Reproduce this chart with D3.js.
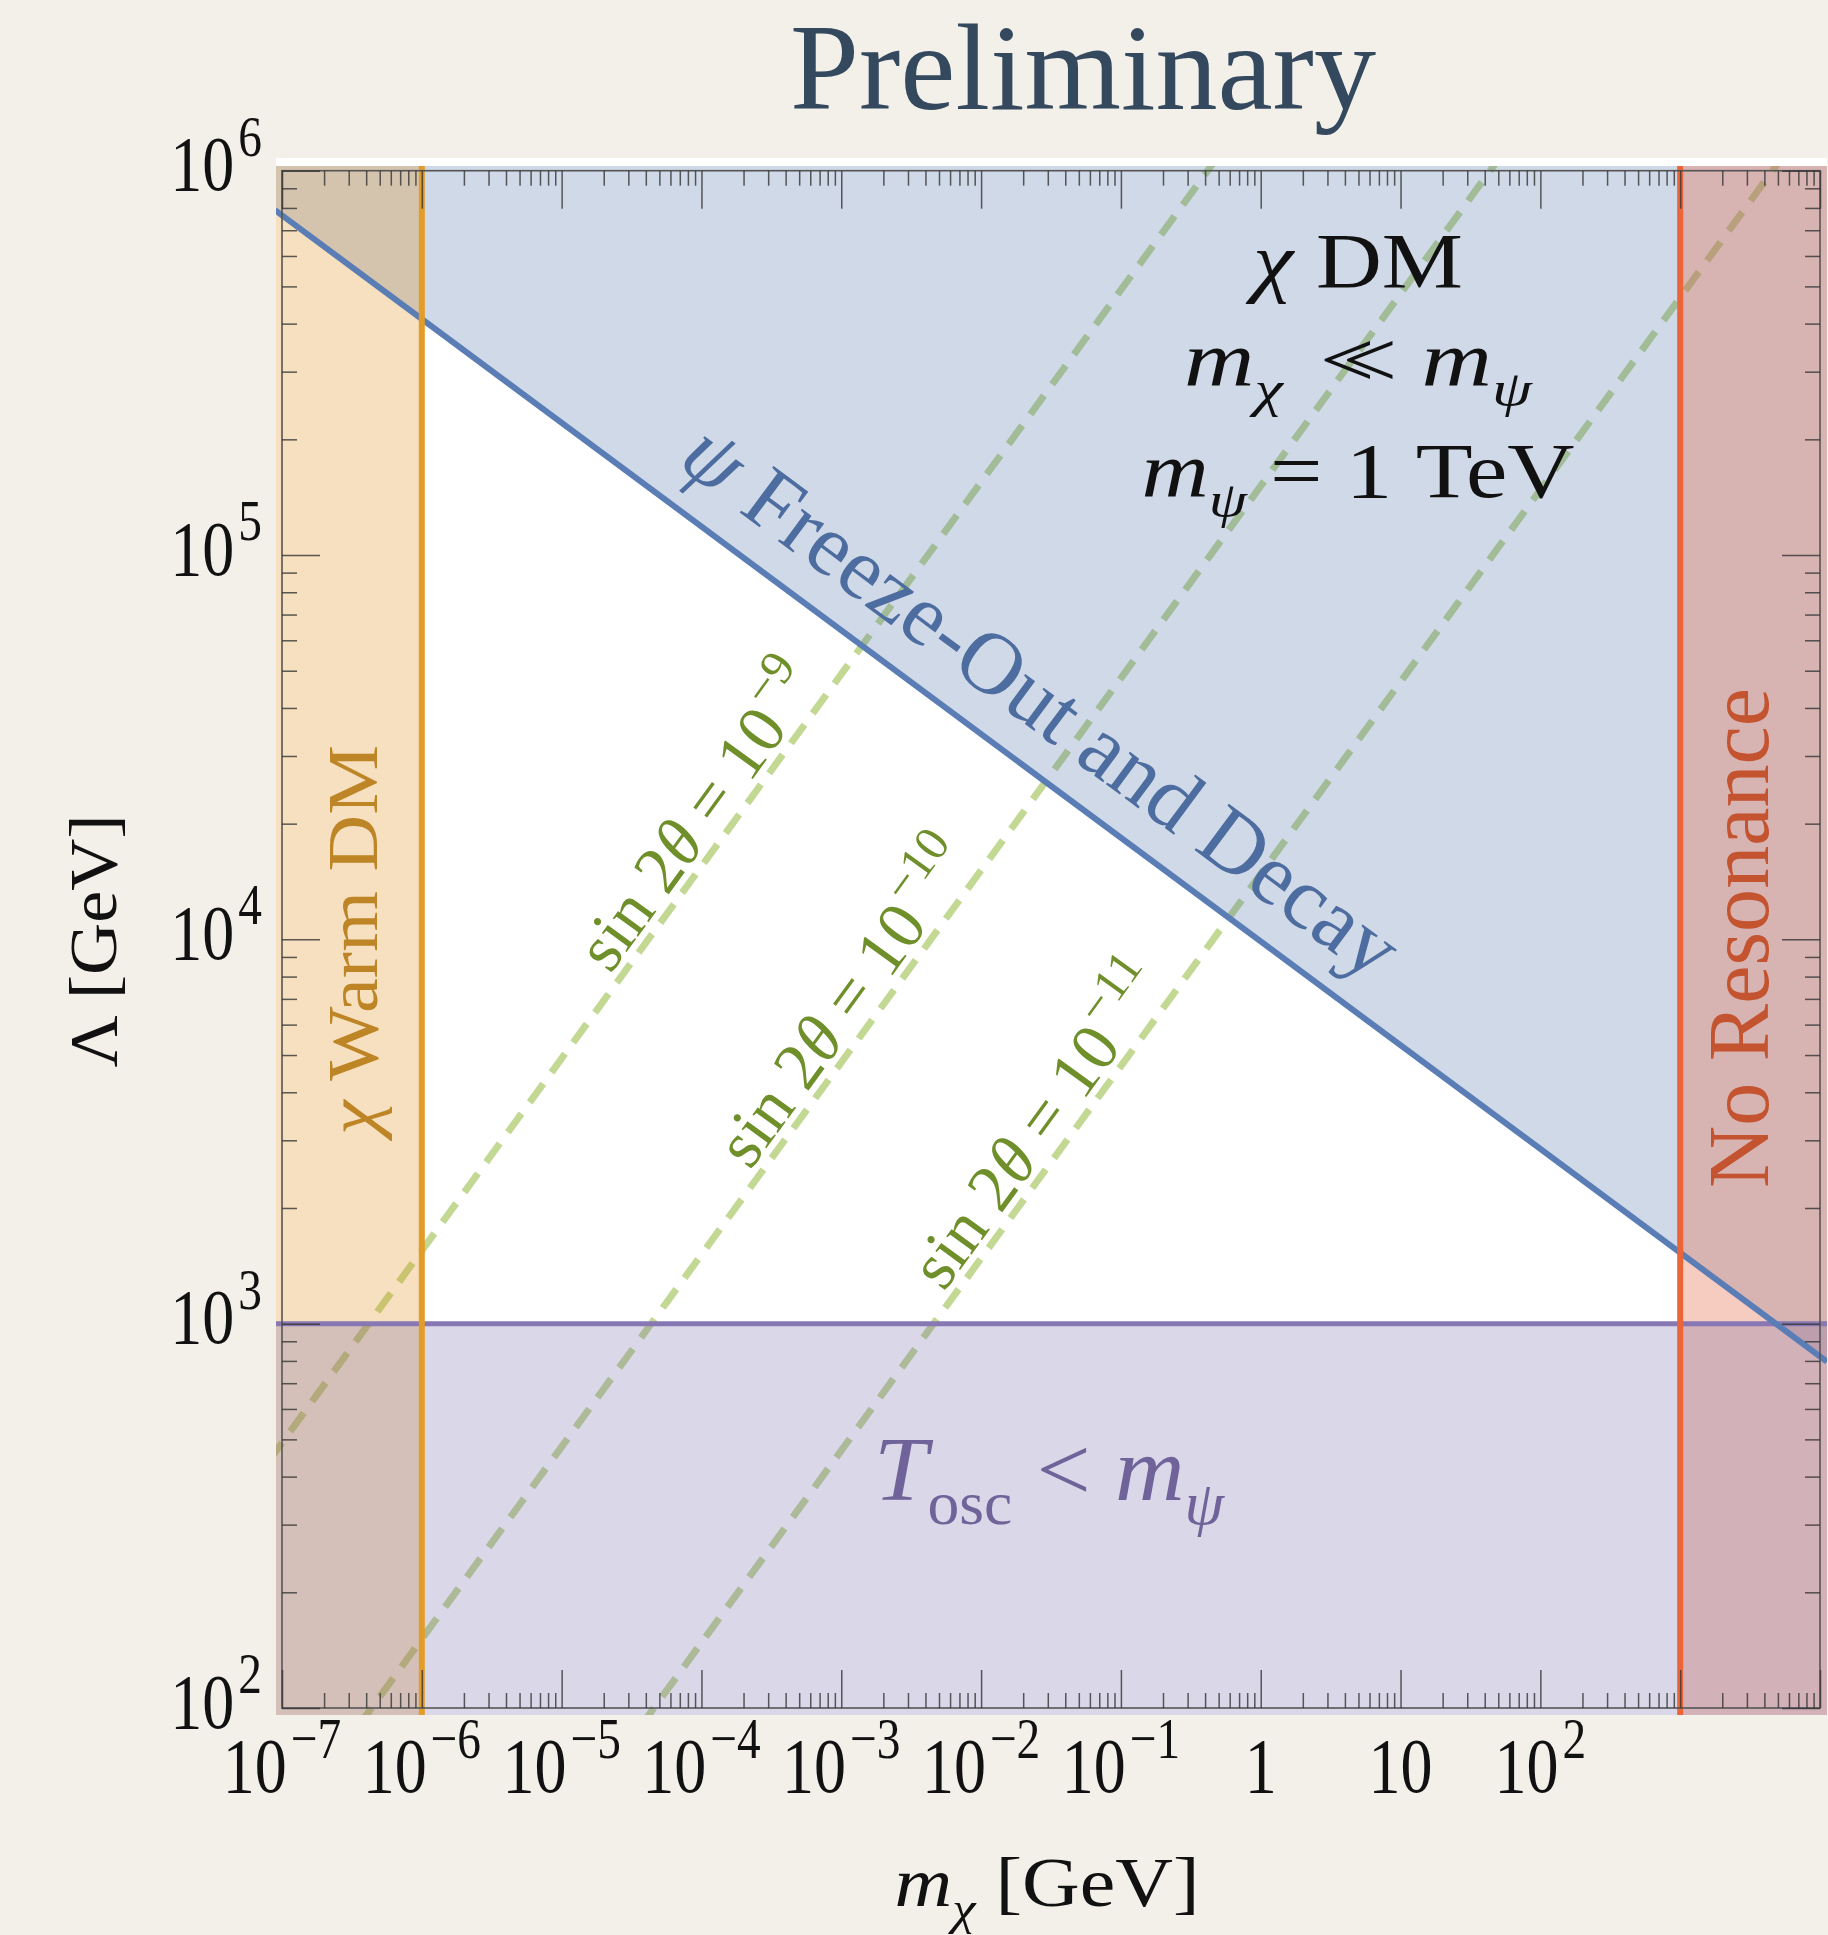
<!DOCTYPE html>
<html>
<head>
<meta charset="utf-8">
<script src="https://cdn.jsdelivr.net/npm/d3@7"></script>
<style>
html, body { margin: 0; padding: 0; background: #f3f0ea; }
svg { display: block; }
text { font-family: "Liberation Serif", "Times New Roman", "DejaVu Serif", serif; }
</style>
</head>
<body>
<svg id="chart" width="1828" height="1935"></svg>
<script>
// axis ticks and labels
var xTickValues = [1e-7, 1e-6, 1e-5, 1e-4, 1e-3, 1e-2, 1e-1, 1, 10, 100];
var xTickLabels = ["10^−7", "10^−6", "10^−5", "10^−4", "10^−3", "10^−2", "10^−1", "1", "10", "10^2"];
var yTickValues = [1e2, 1e3, 1e4, 1e5, 1e6];
var yTickLabels = ["10^2", "10^3", "10^4", "10^5", "10^6"];

// region boundaries (GeV)
var warmDmMass = 1e-6;
var resonanceMass = 1e3;
var oscLambda = 1e3;
var freezeOutLine = [[8.9e-8, 7.9e5], [1.12e4, 797]];

// sin 2theta contours, [m_chi, Lambda] where each enters / leaves the frame
var mixingExponents = ["−9", "−10", "−11"];
var mixingLines = [
  [[1e-7, 490], [0.417, 1e6]],
  [[4.37e-7, 100], [43.7, 1e6]],
  [[4.57e-5, 100], [4570, 1e6]]
];
var mixingLabelMass = [1.45e-4, 1.63e-3, 3.93e-2];
var freezeLabelMass = 0.0146;

var W = 1828, H = 1935;
var x = d3.scaleLog().domain([1e-7, 1e4]).range([282, 1820]);
var y = d3.scaleLog().domain([1e2, 1e6]).range([1708, 170.7]);
var pad = {l: 276, r: 1827, t: 166, b: 1715};

var svg = d3.select("#chart");
svg.append("rect").attr("width", W).attr("height", H).attr("fill", "#f3f0ea");
svg.append("rect").attr("x", 276).attr("y", 158).attr("width", 1551).attr("height", 1557).attr("fill", "#fff");

svg.append("defs").append("clipPath").attr("id", "clip")
  .append("rect").attr("x", pad.l).attr("y", pad.t).attr("width", pad.r - pad.l).attr("height", pad.b - pad.t);
var plot = svg.append("g").attr("clip-path", "url(#clip)");

function px(d) { return [x(d[0]), y(d[1])]; }
function extend(a, b, e) {
  var dx = b[0] - a[0], dy = b[1] - a[1], L = Math.hypot(dx, dy);
  return [[a[0] - dx / L * e, a[1] - dy / L * e], [b[0] + dx / L * e, b[1] + dy / L * e]];
}
function onLine(seg, m) {
  var a = px(seg[0]), b = px(seg[1]), xx = x(m);
  return [xx, a[1] + (b[1] - a[1]) * (xx - a[0]) / (b[0] - a[0])];
}

// dashed mixing-angle lines (under the fills)
mixingLines.forEach(function(l) {
  var p = extend(px(l[0]), px(l[1]), 60);
  plot.append("line")
    .attr("x1", p[0][0]).attr("y1", p[0][1]).attr("x2", p[1][0]).attr("y2", p[1][1])
    .attr("stroke", "#c2d893").attr("stroke-width", 7).attr("stroke-dasharray", "23 14");
});

// shaded regions
var fo = freezeOutLine.map(px);
plot.append("path")
  .attr("d", d3.line()([[fo[0][0], pad.t - 5], [fo[1][0], pad.t - 5], fo[1], fo[0]]))
  .attr("fill", "rgba(63,103,159,0.25)");
plot.append("rect").attr("x", x(resonanceMass)).attr("y", pad.t).attr("width", pad.r - x(resonanceMass)).attr("height", pad.b - pad.t)
  .attr("fill", "rgba(229,109,78,0.35)");
plot.append("rect").attr("x", pad.l).attr("y", pad.t).attr("width", x(warmDmMass) - pad.l).attr("height", pad.b - pad.t)
  .attr("fill", "rgba(226,141,18,0.27)");
plot.append("rect").attr("x", pad.l).attr("y", y(oscLambda)).attr("width", pad.r - pad.l).attr("height", pad.b - y(oscLambda))
  .attr("fill", "rgba(107,95,163,0.25)");

// boundary lines
plot.append("line").attr("x1", pad.l).attr("x2", pad.r).attr("y1", y(oscLambda)).attr("y2", y(oscLambda))
  .attr("stroke", "#8777b3").attr("stroke-width", 5);
plot.append("line").attr("x1", fo[0][0]).attr("y1", fo[0][1]).attr("x2", fo[1][0]).attr("y2", fo[1][1])
  .attr("stroke", "#5a7db5").attr("stroke-width", 6);
plot.append("line").attr("x1", x(warmDmMass)).attr("x2", x(warmDmMass)).attr("y1", pad.t).attr("y2", pad.b)
  .attr("stroke", "#e39c28").attr("stroke-width", 6);
plot.append("line").attr("x1", x(resonanceMass)).attr("x2", x(resonanceMass)).attr("y1", pad.t).attr("y2", pad.b)
  .attr("stroke", "#ec6538").attr("stroke-width", 6);

// frame and ticks
var axes = svg.append("g");
axes.append("rect").attr("x", 282).attr("y", 170.7).attr("width", 1538).attr("height", 1708 - 170.7)
  .attr("fill", "none").attr("stroke", "#555").attr("stroke-width", 1.6);

var xMajor = d3.range(-7, 5).map(function(k) { return Math.pow(10, k); });
var xMinor = [];
d3.range(-7, 4).forEach(function(k) { d3.range(2, 10).forEach(function(j) { xMinor.push(j * Math.pow(10, k)); }); });
var yMajor = d3.range(2, 7).map(function(k) { return Math.pow(10, k); });
var yMinor = [];
d3.range(2, 6).forEach(function(k) { d3.range(2, 10).forEach(function(j) { yMinor.push(j * Math.pow(10, k)); }); });

function tickRow(axisFn, scale, vals, size, tr) {
  var g = axes.append("g").attr("transform", tr)
    .call(axisFn(scale).tickValues(vals).tickSize(-size).tickFormat(""));
  g.select(".domain").remove();
  g.selectAll("text").remove();
  g.selectAll("line").attr("stroke", "#333").attr("stroke-width", 1.5).attr("stroke-opacity", 0.8);
}
tickRow(d3.axisBottom, x, xMajor, 38, "translate(0,1708)");
tickRow(d3.axisBottom, x, xMinor, 15, "translate(0,1708)");
tickRow(d3.axisTop, x, xMajor, 38, "translate(0,170.7)");
tickRow(d3.axisTop, x, xMinor, 15, "translate(0,170.7)");
tickRow(d3.axisLeft, y, yMajor, 38, "translate(282,0)");
tickRow(d3.axisLeft, y, yMinor, 15, "translate(282,0)");
tickRow(d3.axisRight, y, yMajor, 38, "translate(1820,0)");
tickRow(d3.axisRight, y, yMinor, 15, "translate(1820,0)");

// rich text helper: segments with italic / sub / sup
function rich(sel, segs, fs, subScale) {
  var shift = 0, k = subScale || 0.66;
  segs.forEach(function(s) {
    var t = sel.append("tspan").text(s.t);
    var target = s.sub ? fs * 0.26 : (s.sup ? -fs * 0.44 : 0);
    if (target !== shift) t.attr("dy", target - shift);
    shift = target;
    if (s.sub || s.sup) t.attr("font-size", fs * k);
    if (s.i) t.attr("font-style", "italic");
    if (s.dx) t.attr("dx", s.dx);
  });
  return sel;
}
function powerSegs(str) {
  var p = str.split("^");
  return p.length > 1 ? [{t: p[0]}, {t: p[1], sup: true, dx: 4}] : [{t: p[0]}];
}

// tick labels
xTickValues.forEach(function(v, i) {
  var t = svg.append("text").attr("text-anchor", "middle").attr("font-size", 64).attr("fill", "#111")
    .attr("transform", "translate(" + x(v) + ",1792) scale(1,1.22)");
  rich(t, powerSegs(xTickLabels[i]), 64, 0.74);
});
yTickValues.forEach(function(v, i) {
  var t = svg.append("text").attr("text-anchor", "end").attr("font-size", 64).attr("fill", "#111")
    .attr("transform", "translate(262," + (y(v) + 19.5) + ") scale(1,1.22)");
  rich(t, powerSegs(yTickLabels[i]), 64, 0.74);
});

// axis titles
rich(svg.append("text").attr("text-anchor", "middle").attr("font-size", 70).attr("fill", "#111")
  .attr("transform", "translate(1047,1906)").attr("textLength", 305).attr("lengthAdjust", "spacingAndGlyphs"),
  [{t: "m", i: true}, {t: "χ", i: true, sub: true}, {t: " [GeV]"}], 70);
rich(svg.append("text").attr("text-anchor", "middle").attr("font-size", 68).attr("fill", "#111")
  .attr("transform", "translate(116,941) rotate(-90)").attr("textLength", 253).attr("lengthAdjust", "spacingAndGlyphs"),
  [{t: "Λ [GeV]"}], 68);

// title
svg.append("text").attr("x", 1083).attr("y", 109).attr("text-anchor", "middle")
  .attr("font-size", 122).attr("fill", "#34495e").attr("textLength", 586).attr("lengthAdjust", "spacingAndGlyphs")
  .text("Preliminary");

// model annotation
var note = [
  {y: 287, w: 210, segs: [{t: "χ", i: true}, {t: " DM"}]},
  {y: 386, w: 348, segs: [{t: "m", i: true}, {t: "χ", i: true, sub: true}, {t: " <", dx: 10}, {t: "<", dx: -26}, {t: " "}, {t: "m", i: true}, {t: "ψ", i: true, sub: true}]},
  {y: 497, w: 433, segs: [{t: "m", i: true}, {t: "ψ", i: true, sub: true}, {t: " = 1 TeV"}]}
];
note.forEach(function(n) {
  rich(svg.append("text").attr("x", 1358).attr("y", n.y).attr("text-anchor", "middle")
    .attr("font-size", 78).attr("fill", "#111").attr("textLength", n.w).attr("lengthAdjust", "spacingAndGlyphs"), n.segs, 78);
});

// region labels
rich(svg.append("text").attr("text-anchor", "middle").attr("font-size", 72).attr("fill", "#bd8526")
  .attr("transform", "translate(377,940) rotate(-90)").attr("textLength", 390).attr("lengthAdjust", "spacingAndGlyphs"),
  [{t: "χ", i: true}, {t: " Warm DM"}], 72);
svg.append("text").attr("text-anchor", "middle").attr("font-size", 86).attr("fill", "#c4532f")
  .attr("transform", "translate(1768,938) rotate(-90)").attr("textLength", 500).attr("lengthAdjust", "spacingAndGlyphs")
  .text("No Resonance");
rich(svg.append("text").attr("x", 1049).attr("y", 1500).attr("text-anchor", "middle")
  .attr("font-size", 92).attr("fill", "#6f6399").attr("textLength", 350).attr("lengthAdjust", "spacingAndGlyphs"),
  [{t: "T", i: true}, {t: "osc", sub: true}, {t: " < "}, {t: "m", i: true}, {t: "ψ", i: true, sub: true}], 92);

// labels along lines
function alongLabel(seg, m, off, fs, color, segs, sk) {
  var a = px(seg[0]), b = px(seg[1]);
  var ang = Math.atan2(b[1] - a[1], b[0] - a[0]);
  if (ang > Math.PI / 2) ang -= Math.PI;
  if (ang < -Math.PI / 2) ang += Math.PI;
  var p = onLine(seg, m);
  var nx = Math.sin(ang), ny = -Math.cos(ang);
  var t = svg.append("text").attr("text-anchor", "middle").attr("font-size", fs).attr("fill", color)
    .attr("transform", "translate(" + (p[0] + off * nx) + "," + (p[1] + off * ny) + ") rotate(" + (ang * 180 / Math.PI) + ")");
  rich(t, segs, fs, sk);
}
mixingLines.forEach(function(l, i) {
  alongLabel(l, mixingLabelMass[i], 10, 68, "#6f8f2a",
    [{t: "sin 2"}, {t: "θ", i: true}, {t: " = 10"}, {t: mixingExponents[i], sup: true, dx: 3}], 0.72);
});
alongLabel(freezeOutLine, freezeLabelMass, 34, 88, "#4d6c9f",
  [{t: "ψ", i: true}, {t: " Freeze-Out and Decay"}]);
</script>
</body>
</html>
